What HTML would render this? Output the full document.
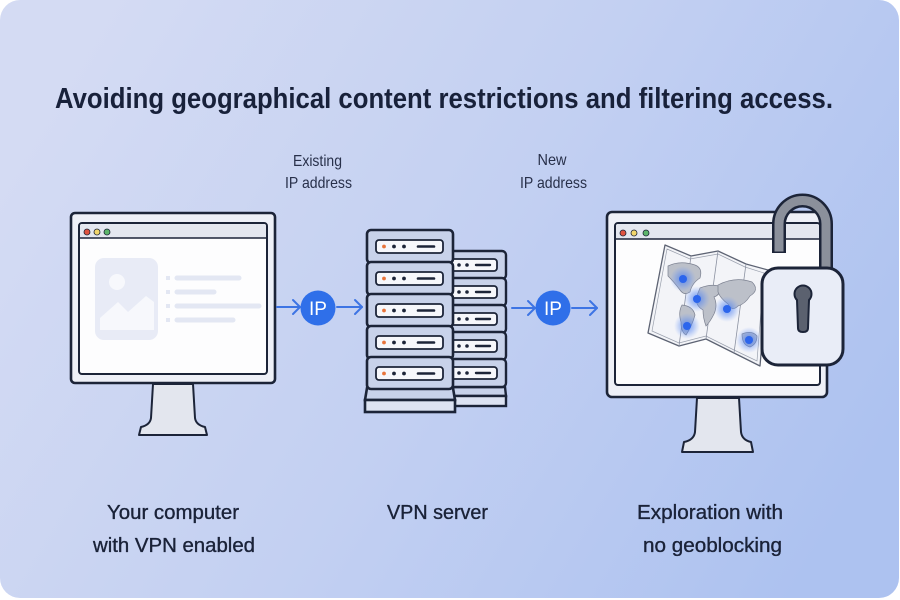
<!DOCTYPE html>
<html><head><meta charset="utf-8"><style>
html,body{margin:0;padding:0;background:#fff;width:900px;height:600px;overflow:hidden}
svg{display:block}
text{font-family:"Liberation Sans",Arial,sans-serif}
</style></head><body>
<svg width="900" height="600" viewBox="0 0 900 600" xmlns="http://www.w3.org/2000/svg">
<defs>
<linearGradient id="bg" x1="0" y1="0.3" x2="1" y2="0.7">
<stop offset="0" stop-color="#d4dbf3"/>
<stop offset="0.5" stop-color="#c3d0f2"/>
<stop offset="1" stop-color="#adc2f0"/>
</linearGradient>
<radialGradient id="glow">
<stop offset="0" stop-color="#3a72f0" stop-opacity="0.75"/>
<stop offset="0.55" stop-color="#5d8cf2" stop-opacity="0.4"/>
<stop offset="1" stop-color="#7aa0f5" stop-opacity="0"/>
</radialGradient>
</defs>
<rect x="0" y="0" width="899" height="598" rx="20" fill="url(#bg)"/>

<!-- Title -->
<text x="55" y="108" font-size="29" font-weight="bold" fill="#18213a" textLength="778" lengthAdjust="spacingAndGlyphs">Avoiding geographical content restrictions and filtering access.</text>

<!-- top labels -->
<g font-size="16" fill="#28304a" text-anchor="middle">
<text x="317.5" y="166" textLength="49" lengthAdjust="spacingAndGlyphs">Existing</text>
<text x="318.5" y="188" textLength="67" lengthAdjust="spacingAndGlyphs">IP address</text>
<text x="552" y="165" textLength="29" lengthAdjust="spacingAndGlyphs">New</text>
<text x="553.5" y="188" textLength="67" lengthAdjust="spacingAndGlyphs">IP address</text>
</g>

<!-- bottom labels -->
<g font-size="20" fill="#1a2238" stroke="#1a2238" stroke-width="0.35">
<text x="107" y="519" textLength="132" lengthAdjust="spacingAndGlyphs">Your computer</text>
<text x="93" y="552" textLength="162" lengthAdjust="spacingAndGlyphs">with VPN enabled</text>
<text x="387" y="519" textLength="101" lengthAdjust="spacingAndGlyphs">VPN server</text>
<text x="637" y="519" textLength="146" lengthAdjust="spacingAndGlyphs">Exploration with</text>
<text x="643" y="552" textLength="139" lengthAdjust="spacingAndGlyphs">no geoblocking</text>
</g>

<!-- LEFT MONITOR -->
<path d="M153 384 L151 418 Q150 425 141 427 L139 435 L207 435 L205 427 Q196 425 195 418 L193 384 Z" fill="#e3e6ee" stroke="#1c2438" stroke-width="2" stroke-linejoin="round"/>
<rect x="71" y="213" width="204" height="170" rx="4" fill="#eef0f7" stroke="#1c2438" stroke-width="2.6"/>
<rect x="79" y="223" width="188" height="151" rx="3" fill="#fdfdfe" stroke="#1c2438" stroke-width="2"/>
<path d="M80 238 V226 Q80 224 82 224 H264 Q266 224 266 226 V238 Z" fill="#e4e7ef"/>
<line x1="80" y1="238" x2="266" y2="238" stroke="#1c2438" stroke-width="1.5"/>
<circle cx="87" cy="232" r="3" fill="#e0533f" stroke="#1c2438" stroke-width="0.8"/>
<circle cx="97" cy="232" r="3" fill="#f1d56a" stroke="#1c2438" stroke-width="0.8"/>
<circle cx="107" cy="232" r="3" fill="#5db56a" stroke="#1c2438" stroke-width="0.8"/>
<rect x="95" y="258" width="63" height="82" rx="9" fill="#e8ebf6"/>
<circle cx="117" cy="282" r="8" fill="#f7f8fc"/>
<path d="M100 330 L100 318 L118 302 L128 312 L146 296 L154 302 L154 330 Z" fill="#f7f8fc"/>
<g fill="#e3e7f3">
<rect x="166" y="276" width="4" height="4"/>
<rect x="166" y="290" width="4" height="4"/>
<rect x="166" y="304" width="4" height="4"/>
<rect x="166" y="318" width="4" height="4"/>
</g>
<g stroke="#e3e7f3" stroke-width="5" stroke-linecap="round">
<line x1="177" y1="278" x2="239" y2="278"/>
<line x1="177" y1="292" x2="214" y2="292"/>
<line x1="177" y1="306" x2="259" y2="306"/>
<line x1="177" y1="320" x2="233" y2="320"/>
</g>

<!-- ARROWS + IP -->
<g stroke="#3d74e4" stroke-width="2" fill="none" stroke-linecap="round" stroke-linejoin="round">
<line x1="277" y1="307" x2="300" y2="307"/><path d="M293 300 L300 307 L293 314"/>
<line x1="337" y1="307" x2="362" y2="307"/><path d="M355 300 L362 307 L355 314"/>
<line x1="512" y1="308" x2="535" y2="308"/><path d="M528 301 L535 308 L528 315"/>
<line x1="572" y1="308" x2="597" y2="308"/><path d="M590 301 L597 308 L590 315"/>
</g>
<circle cx="318" cy="308" r="17.5" fill="#2f6fe9"/>
<circle cx="553" cy="308" r="17.5" fill="#2f6fe9"/>
<g font-size="19" fill="#ffffff" text-anchor="middle">
<text x="318" y="315">IP</text>
<text x="553" y="315">IP</text>
</g>

<!-- SERVER back tower -->
<g stroke="#1c2438" stroke-width="2.4">
<path d="M453 387 L505 387 L506 396 L453 396 Z" fill="#c8d2ea"/>
<rect x="453" y="396" width="53" height="10" fill="#dde3f2"/>
<rect x="440" y="251" width="66" height="28" rx="4" fill="#c8d2ea"/>
<rect x="440" y="278" width="66" height="28" rx="4" fill="#c8d2ea"/>
<rect x="440" y="305" width="66" height="28" rx="4" fill="#c8d2ea"/>
<rect x="440" y="332" width="66" height="28" rx="4" fill="#c8d2ea"/>
<rect x="440" y="359" width="66" height="28" rx="4" fill="#c8d2ea"/>
</g>
<g stroke="#1c2438" stroke-width="1.8" fill="#f6f7fb">
<rect x="445" y="259" width="52" height="12" rx="3"/>
<rect x="445" y="286" width="52" height="12" rx="3"/>
<rect x="445" y="313" width="52" height="12" rx="3"/>
<rect x="445" y="340" width="52" height="12" rx="3"/>
<rect x="445" y="367" width="52" height="12" rx="3"/>
</g>
<g fill="#1c2438">
<circle cx="459" cy="265" r="1.8"/><circle cx="467" cy="265" r="1.8"/>
<circle cx="459" cy="292" r="1.8"/><circle cx="467" cy="292" r="1.8"/>
<circle cx="459" cy="319" r="1.8"/><circle cx="467" cy="319" r="1.8"/>
<circle cx="459" cy="346" r="1.8"/><circle cx="467" cy="346" r="1.8"/>
<circle cx="459" cy="373" r="1.8"/><circle cx="467" cy="373" r="1.8"/>
</g>
<g stroke="#1c2438" stroke-width="2.4" stroke-linecap="round">
<line x1="476" y1="265" x2="490" y2="265"/>
<line x1="476" y1="292" x2="490" y2="292"/>
<line x1="476" y1="319" x2="490" y2="319"/>
<line x1="476" y1="346" x2="490" y2="346"/>
<line x1="476" y1="373" x2="490" y2="373"/>
</g>

<!-- SERVER front tower -->
<g stroke="#1c2438" stroke-width="2.6">
<path d="M367 388 L453 388 L455 400 L365 400 Z" fill="#c8d2ea"/>
<rect x="365" y="400" width="90" height="12" fill="#dde3f2"/>
<rect x="367" y="230" width="86" height="33" rx="4" fill="#c8d2ea"/>
<rect x="367" y="262" width="86" height="33" rx="4" fill="#c8d2ea"/>
<rect x="367" y="294" width="86" height="33" rx="4" fill="#c8d2ea"/>
<rect x="367" y="326" width="86" height="33" rx="4" fill="#c8d2ea"/>
<rect x="367" y="357" width="86" height="32" rx="4" fill="#c8d2ea"/>
</g>
<g stroke="#1c2438" stroke-width="1.8" fill="#f6f7fb">
<rect x="376" y="240" width="67" height="13" rx="3"/>
<rect x="376" y="272" width="67" height="13" rx="3"/>
<rect x="376" y="304" width="67" height="13" rx="3"/>
<rect x="376" y="336" width="67" height="13" rx="3"/>
<rect x="376" y="367" width="67" height="13" rx="3"/>
</g>
<g>
<circle cx="384" cy="246.5" r="1.9" fill="#e8743b"/><circle cx="394" cy="246.5" r="1.9" fill="#1c2438"/><circle cx="404" cy="246.5" r="1.9" fill="#1c2438"/>
<circle cx="384" cy="278.5" r="1.9" fill="#e8743b"/><circle cx="394" cy="278.5" r="1.9" fill="#1c2438"/><circle cx="404" cy="278.5" r="1.9" fill="#1c2438"/>
<circle cx="384" cy="310.5" r="1.9" fill="#e8743b"/><circle cx="394" cy="310.5" r="1.9" fill="#1c2438"/><circle cx="404" cy="310.5" r="1.9" fill="#1c2438"/>
<circle cx="384" cy="342.5" r="1.9" fill="#e8743b"/><circle cx="394" cy="342.5" r="1.9" fill="#1c2438"/><circle cx="404" cy="342.5" r="1.9" fill="#1c2438"/>
<circle cx="384" cy="373.5" r="1.9" fill="#e8743b"/><circle cx="394" cy="373.5" r="1.9" fill="#1c2438"/><circle cx="404" cy="373.5" r="1.9" fill="#1c2438"/>
</g>
<g stroke="#1c2438" stroke-width="2.6" stroke-linecap="round">
<line x1="418" y1="246.5" x2="434" y2="246.5"/>
<line x1="418" y1="278.5" x2="434" y2="278.5"/>
<line x1="418" y1="310.5" x2="434" y2="310.5"/>
<line x1="418" y1="342.5" x2="434" y2="342.5"/>
<line x1="418" y1="373.5" x2="434" y2="373.5"/>
</g>

<!-- RIGHT MONITOR -->
<path d="M697 398 L695 432 Q694 440 684 442 L682 452 L753 452 L751 442 Q742 440 741 432 L739 398 Z" fill="#e3e6ee" stroke="#1c2438" stroke-width="2" stroke-linejoin="round"/>
<rect x="607" y="212" width="220" height="185" rx="5" fill="#eef0f7" stroke="#1c2438" stroke-width="2.6"/>
<rect x="615" y="223" width="205" height="162" rx="3" fill="#fdfdfe" stroke="#1c2438" stroke-width="2"/>
<path d="M616 239 V226 Q616 224 618 224 H817 Q819 224 819 226 V239 Z" fill="#e4e7ef"/>
<line x1="616" y1="239" x2="819" y2="239" stroke="#1c2438" stroke-width="1.5"/>
<circle cx="623" cy="233" r="3" fill="#e0533f" stroke="#1c2438" stroke-width="0.8"/>
<circle cx="634" cy="233" r="3" fill="#f1d56a" stroke="#1c2438" stroke-width="0.8"/>
<circle cx="646" cy="233" r="3" fill="#5db56a" stroke="#1c2438" stroke-width="0.8"/>

<!-- map -->
<path d="M665 245 L691 256 L718 251 L746 264 L768 270 L760 366 L734 353 L706 339 L679 346 L648 333 Z" fill="#f3f4f8" stroke="#5d6373" stroke-width="1.3" stroke-linejoin="round"/>
<path d="M667 249 L690 259 L718 254 L745 267 L764 273 L757 361 L734 350 L706 336 L679 343 L652 331 Z" fill="none" stroke="#9aa0ad" stroke-width="0.7"/>
<g stroke="#8a90a0" stroke-width="0.8" fill="none">
<line x1="691" y1="256" x2="679" y2="346"/>
<line x1="718" y1="251" x2="706" y2="339"/>
<line x1="746" y1="264" x2="734" y2="353"/>
</g>
<g fill="#bcc0c9" stroke="#7b8090" stroke-width="0.7">
<path d="M668 266 Q680 260 695 265 Q703 268 700 278 Q692 283 690 292 Q684 296 680 290 Q674 282 668 276 Z"/>
<path d="M682 305 Q693 306 695 315 Q692 326 686 335 Q681 332 681 322 Q678 312 682 305 Z"/>
<path d="M700 288 Q712 283 722 287 Q720 295 714 297 Q718 305 714 314 Q710 322 706 326 Q703 318 703 310 Q696 306 696 298 Z"/>
<path d="M718 285 Q735 276 752 282 Q760 290 750 296 Q745 304 738 306 Q732 312 728 304 Q720 298 718 292 Z"/>
<path d="M742 334 Q752 330 757 336 Q757 344 750 347 Q742 345 742 334 Z"/>
</g>
<g>
<circle cx="683" cy="279" r="13" fill="url(#glow)"/><circle cx="683" cy="279" r="4" fill="#2c65ec"/>
<circle cx="697" cy="299" r="13" fill="url(#glow)"/><circle cx="697" cy="299" r="4" fill="#2c65ec"/>
<circle cx="727" cy="309" r="13" fill="url(#glow)"/><circle cx="727" cy="309" r="4" fill="#2c65ec"/>
<circle cx="687" cy="326" r="13" fill="url(#glow)"/><circle cx="687" cy="326" r="4" fill="#2c65ec"/>
<circle cx="749" cy="340" r="13" fill="url(#glow)"/><circle cx="749" cy="340" r="4" fill="#2c65ec"/>
</g>

<!-- lock -->
<path d="M779 253 V224 A23.5 23.5 0 0 1 826 224 V272" fill="none" stroke="#1c2438" stroke-width="14"/>
<path d="M779 251.5 V224 A23.5 23.5 0 0 1 826 224 V272" fill="none" stroke="#8b909b" stroke-width="9"/>
<rect x="762" y="268" width="81" height="97" rx="16" fill="#e9edf7" stroke="#1c2438" stroke-width="3"/>
<path d="M797 300 A8.5 8.5 0 1 1 809 300 L808 328 Q808 332 803 332 Q798 332 798 328 Z" fill="#5b616f" stroke="#1c2438" stroke-width="2"/>
</svg>
</body></html>
